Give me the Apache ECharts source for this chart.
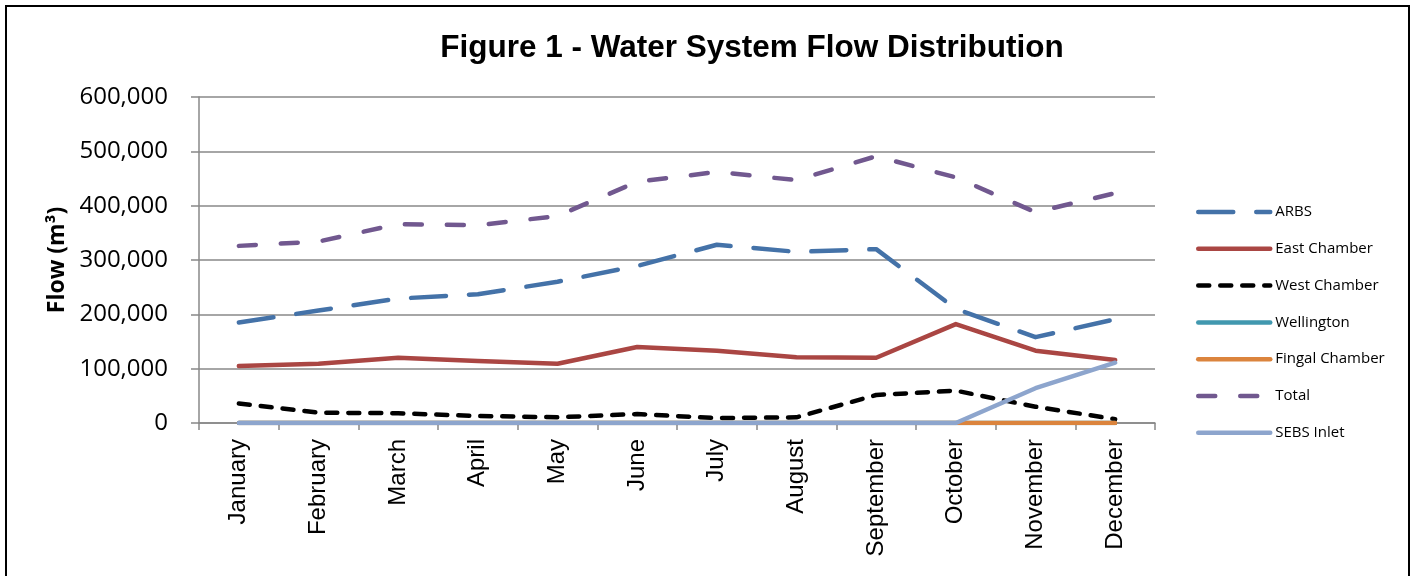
<!DOCTYPE html>
<html>
<head>
<meta charset="utf-8">
<script src="https://cdn.jsdelivr.net/npm/echarts@6/dist/echarts.min.js"></script>
<style>
    html, body { margin: 0; padding: 0; background: #fff; }
    #chart { width: 1413px; height: 576px; }
</style>
</head>
<body>
<div id="chart"></div>
<script>
// 月份
const months = ['January', 'February', 'March', 'April', 'May', 'June',
    'July', 'August', 'September', 'October', 'November', 'December'];

// 各流量数据 (m³)
const arbs = [185000, 207000, 229000, 237000, 260000, 289000, 328000, 315000, 320000, 210000, 158000, 191000];
const eastChamber = [105000, 109000, 120000, 114000, 109000, 140000, 133000, 121000, 120000, 182000, 133000, 116000];
const westChamber = [36000, 19000, 18000, 13000, 10500, 16500, 9000, 10500, 51500, 59500, 30000, 7000];
const wellington = [0, 0, 0, 0, 0, 0, 0, 0, 0, 0, 0, 0];
const fingalChamber = [0, 0, 0, 0, 0, 0, 0, 0, 0, 0, 0, 0];
const total = [326000, 334000, 366000, 364000, 381000, 444000, 462000, 447000, 491000, 452000, 388000, 423000];
const sebsInlet = [0, 0, 0, 0, 0, 0, 0, 0, 0, 0, 64000, 111000];

const chart = echarts.init(document.getElementById('chart'));

// 生成折线系列
function makeLine(name, data, color, dash) {
    return {
        name: name,
        type: 'line',
        data: data,
        symbol: 'none',
        smooth: false,
        lineStyle: {
            width: 4.5,
            color: color,
            type: dash || 'solid',
            cap: 'round',
            join: 'round'
        },
        itemStyle: { color: color }
    };
}

const option = {
    animation: false,
    backgroundColor: '#fff',
    title: {
        text: 'Figure 1 - Water System Flow Distribution',
        left: 747,
        top: 27,
        textAlign: 'center',
        textStyle: {
            fontFamily: 'Liberation Sans',
            fontWeight: 'bold',
            fontSize: 31.5,
            color: '#000'
        }
    },
    graphic: [
        {
            type: 'rect',
            shape: { x: 6, y: 6, width: 1403, height: 620 },
            style: { fill: 'none', stroke: '#000', lineWidth: 2 },
            silent: true
        }
    ],
    legend: {
        orient: 'vertical',
        left: 1191,
        top: 197,
        itemWidth: 72,
        itemHeight: 14,
        itemGap: 16.8,
        itemStyle: { opacity: 0 },
        lineStyle: { width: 4.5, cap: 'round' },
        textStyle: {
            fontFamily: 'Open Sans',
            fontSize: 15,
            color: '#000',
            lineHeight: 20
        },
        data: ['ARBS', 'East Chamber', 'West Chamber', 'Wellington', 'Fingal Chamber', 'Total', 'SEBS Inlet']
    },
    grid: {
        left: 199,
        right: 258,
        top: 97,
        bottom: 153
    },
    xAxis: {
        type: 'category',
        data: months,
        boundaryGap: true,
        axisLine: { lineStyle: { color: '#888', width: 1.5 } },
        axisTick: { show: true, length: 7, lineStyle: { color: '#888', width: 1.5 } },
        axisLabel: {
            rotate: 90,
            margin: 16,
            fontFamily: 'Liberation Sans',
            fontSize: 24,
            color: '#000'
        }
    },
    yAxis: {
        type: 'value',
        min: 0,
        max: 600000,
        interval: 100000,
        name: 'Flow (m³)',
        nameLocation: 'middle',
        nameGap: 128,
        nameTextStyle: {
            fontFamily: 'Open Sans',
            fontWeight: 'bold',
            fontSize: 23,
            color: '#000'
        },
        axisLine: { show: true, lineStyle: { color: '#888', width: 1.5 } },
        axisTick: { show: true, length: 8, lineStyle: { color: '#888', width: 1.5 } },
        splitLine: { show: true, lineStyle: { color: '#888', width: 1.5 } },
        axisLabel: {
            margin: 31,
            fontFamily: 'Open Sans',
            fontSize: 24,
            color: '#000',
            formatter: function (v) {
                return v.toLocaleString('en-US');
            }
        }
    },
    series: [
        makeLine('ARBS', arbs, '#4472A8', [35, 23]),
        makeLine('East Chamber', eastChamber, '#AA4643'),
        makeLine('West Chamber', westChamber, '#000000', [11, 11]),
        makeLine('Wellington', wellington, '#4198AF'),
        makeLine('Fingal Chamber', fingalChamber, '#DB843D'),
        makeLine('Total', total, '#71588F', [17, 25]),
        makeLine('SEBS Inlet', sebsInlet, '#8DA5CD')
    ]
};

chart.setOption(option);

window.addEventListener('resize', function () {
    chart.resize();
});
</script>
</body>
</html>
